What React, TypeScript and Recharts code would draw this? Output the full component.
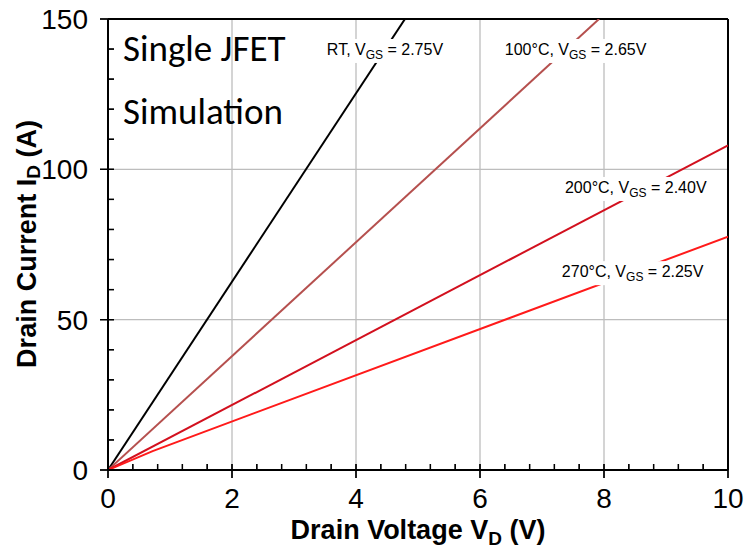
import React from 'react';
import { ComposedChart, Line, XAxis, YAxis, ReferenceLine, ReferenceDot } from 'recharts';

// Drain voltage (V) and drain current (A) for each curve
const rtVd = [0, 4.79];
const rtId = [0, 150];
const t100Vd = [0, 7.92];
const t100Id = [0, 150];
const t200Vd = [0, 10];
const t200Id = [0, 108];
const t270Vd = [0, 0.72, 10];
const t270Id = [0, 6.3, 77.6];

const xMajorTicks = [0, 2, 4, 6, 8, 10];
const xAllTicks = [0, 0.4, 0.8, 1.2, 1.6, 2, 2.4, 2.8, 3.2, 3.6, 4, 4.4, 4.8, 5.2, 5.6, 6, 6.4, 6.8, 7.2, 7.6, 8, 8.4, 8.8, 9.2, 9.6, 10];
const yMajorTicks = [0, 50, 100, 150];
const yAllTicks = [0, 10, 20, 30, 40, 50, 60, 70, 80, 90, 100, 110, 120, 130, 140, 150];
const xGrid = [2, 4, 6, 8];
const yGrid = [50, 100];

// Annotation: [prefix, subscript, suffix, x anchor, y anchor, approx width px]
const annotations: [string, string, string, number, number, number][] = [
  ['RT, V', 'GS', ' = 2.75V', 3.53, 139.7, 116],
  ['100°C, V', 'GS', ' = 2.65V', 6.4, 139.7, 137],
  ['200°C, V', 'GS', ' = 2.40V', 7.37, 93.8, 138],
  ['270°C, V', 'GS', ' = 2.25V', 7.32, 65.8, 138],
];

const toPoints = (xs: number[], ys: number[]) => xs.map((v, i) => ({ vd: v, id: ys[i] }));

const FONT = 'Liberation Sans, Arial, sans-serif';
const isMajor = (list: number[], v: number) => list.some((m) => Math.abs(m - v) < 1e-6);

const centerOf = (p: any) => {
  const vb = p.viewBox || {};
  const cx = vb.x != null ? vb.x + (vb.width || 0) / 2 : 0;
  const cy = vb.y != null ? vb.y + (vb.height || 0) / 2 : 0;
  return [cx, cy];
};

const XTick = (props: any) => {
  const { x, y, payload } = props;
  const v = payload.value;
  const major = isMajor(xMajorTicks, v);
  const nx = Number(x);
  const ny = Number(y);
  return (
    <g>
      <line x1={nx} x2={nx} y1={ny - 6} y2={major ? ny + 8 : ny} stroke="#000" strokeWidth={1.3} />
      {major && (
        <text x={nx} y={ny + 38} textAnchor="middle" fontFamily={FONT} fontSize={28} fill="#000">
          {v}
        </text>
      )}
    </g>
  );
};

const YTick = (props: any) => {
  const { x, y, payload } = props;
  const v = payload.value;
  const major = isMajor(yMajorTicks, v);
  const nx = Number(x);
  const ny = Number(y);
  return (
    <g>
      <line x1={major ? nx - 8 : nx} x2={nx + 6} y1={ny} y2={ny} stroke="#000" strokeWidth={1.3} />
      {major && (
        <text x={nx - 20} y={ny + 10} textAnchor="end" fontFamily={FONT} fontSize={28} fill="#000">
          {v}
        </text>
      )}
    </g>
  );
};

export default function App() {
  return (
    <div style={{ position: 'absolute', left: 0, top: 0, background: '#fff' }}>
      <ComposedChart width={744} height={550} margin={{ top: 19, right: 16, bottom: 20, left: 48 }}>
        <XAxis
          xAxisId="main"
          type="number"
          dataKey="vd"
          domain={[0, 10]}
          ticks={xAllTicks}
          interval={0}
          allowDataOverflow
          height={60}
          stroke="#000"
          strokeWidth={2}
          tickSize={0}
          tickMargin={0}
          tickLine={false}
          tick={<XTick />}
        />
        <YAxis
          yAxisId="main"
          type="number"
          domain={[0, 150]}
          ticks={yAllTicks}
          interval={0}
          allowDataOverflow
          width={60}
          stroke="#000"
          strokeWidth={2}
          tickSize={0}
          tickMargin={0}
          tickLine={false}
          tick={<YTick />}
        />
        {xGrid.map((g) => (
          <ReferenceLine key={'gx' + g} xAxisId="main" yAxisId="main" x={g} stroke="#BDBDBD" strokeWidth={1.3} />
        ))}
        {yGrid.map((g) => (
          <ReferenceLine key={'gy' + g} xAxisId="main" yAxisId="main" y={g} stroke="#BDBDBD" strokeWidth={1.3} />
        ))}
        <ReferenceLine xAxisId="main" yAxisId="main" y={150} stroke="#000" strokeWidth={2} />
        <ReferenceLine xAxisId="main" yAxisId="main" x={10} stroke="#000" strokeWidth={2} />

        <Line xAxisId="main" yAxisId="main" data={toPoints(rtVd, rtId)} dataKey="id" stroke="#000000" strokeWidth={2} dot={false} isAnimationActive={false} />
        <Line xAxisId="main" yAxisId="main" data={toPoints(t100Vd, t100Id)} dataKey="id" stroke="#B5504E" strokeWidth={2} dot={false} isAnimationActive={false} />
        <Line xAxisId="main" yAxisId="main" data={toPoints(t200Vd, t200Id)} dataKey="id" stroke="#D2101E" strokeWidth={2} dot={false} isAnimationActive={false} />
        <Line xAxisId="main" yAxisId="main" data={toPoints(t270Vd, t270Id)} dataKey="id" stroke="#FF1A1A" strokeWidth={2} dot={false} isAnimationActive={false} />

        {xAllTicks.map((t) => (
          <ReferenceDot
            key={'tx' + t}
            xAxisId="main"
            yAxisId="main"
            x={t}
            y={0}
            r={0}
            ifOverflow="visible"
            stroke="none"
            fill="none"
            label={{
              content: (p: any) => {
                const [cx, cy] = centerOf(p);
                return <line x1={cx} x2={cx} y1={cy - 6} y2={isMajor(xMajorTicks, t) ? cy + 8 : cy} stroke="#000" strokeWidth={1.3} />;
              },
            }}
          />
        ))}
        {yAllTicks.map((t) => (
          <ReferenceDot
            key={'ty' + t}
            xAxisId="main"
            yAxisId="main"
            x={0}
            y={t}
            r={0}
            ifOverflow="visible"
            stroke="none"
            fill="none"
            label={{
              content: (p: any) => {
                const [cx, cy] = centerOf(p);
                return <line x1={isMajor(yMajorTicks, t) ? cx - 8 : cx} x2={cx + 6} y1={cy} y2={cy} stroke="#000" strokeWidth={1.3} />;
              },
            }}
          />
        ))}

        {annotations.map(([pre, sub, post, ax, ay, w]) => (
          <ReferenceDot
            key={pre}
            xAxisId="main"
            yAxisId="main"
            x={ax}
            y={ay}
            r={0}
            stroke="none"
            fill="none"
            label={{
              content: (p: any) => {
                const [cx, cy] = centerOf(p);
                return (
                  <g>
                    <rect x={cx - 2} y={cy - 11} width={w + 4} height={24} fill="#fff" />
                    <text x={cx} y={cy + 5} fontFamily={FONT} fontSize={16} fill="#000">
                      {pre}
                      <tspan dy={4} fontSize={12}>{sub}</tspan>
                      <tspan dy={-4}>{post}</tspan>
                    </text>
                  </g>
                );
              },
            }}
          />
        ))}
        <ReferenceDot
          xAxisId="main"
          yAxisId="main"
          x={0}
          y={150}
          r={0}
          stroke="none"
          fill="none"
          label={{
            content: () => (
              <g>
                <text fontFamily="Carlito, Calibri, Lato, sans-serif" fontSize={37} fill="#000">
                  <tspan x={123} y={61}>Single JFET</tspan>
                  <tspan x={123} y={124}>Simulation</tspan>
                </text>
                <text x={418} y={539} textAnchor="middle" fontFamily={FONT} fontWeight="bold" fontSize={27} fill="#000">
                  Drain Voltage V
                  <tspan dy={6} fontSize={19}>D</tspan>
                  <tspan dy={-6}> (V)</tspan>
                </text>
                <text
                  x={27}
                  y={244}
                  transform="rotate(-90, 27, 244)"
                  textAnchor="middle"
                  dominantBaseline="central"
                  fontFamily={FONT}
                  fontWeight="bold"
                  fontSize={27}
                  fill="#000"
                >
                  Drain Current I
                  <tspan dy={6} fontSize={19}>D</tspan>
                  <tspan dy={-6}> (A)</tspan>
                </text>
              </g>
            ),
          }}
        />
      </ComposedChart>
    </div>
  );
}
